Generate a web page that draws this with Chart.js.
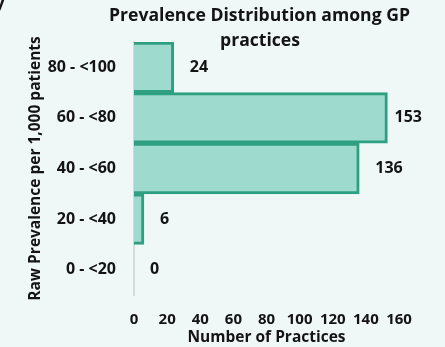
<!DOCTYPE html>
<html>
<head>
<meta charset="utf-8">
<script src="https://cdn.jsdelivr.net/npm/chart.js@4/dist/chart.umd.min.js"></script>
<style>
html,body{margin:0;padding:0;background:#eff8f6;}
#wrap{width:445px;height:347px;position:relative;}
</style>
</head>
<body>
<div id="wrap"><canvas id="c" width="445" height="347"></canvas></div>
<script>
const categories = ['80 - <100', '60 - <80', '40 - <60', '20 - <40', '0 - <20'];
const practices = [24, 153, 136, 6, 0];
const xTicks = [0, 20, 40, 60, 80, 100, 120, 140, 160];
const titleLines = ['Prevalence Distribution among GP', 'practices'];

const FONT = '"Open Sans"';
const TEXT = '#141414';

const bgPlugin = {
  id: 'bg',
  beforeDraw(chart) {
    const ctx = chart.ctx;
    ctx.save();
    ctx.fillStyle = '#eff8f6';
    ctx.fillRect(0, 0, chart.width, chart.height);
    ctx.restore();
  }
};

const textPlugin = {
  id: 'texts',
  afterDraw(chart) {
    const ctx = chart.ctx;
    ctx.save();
    ctx.fillStyle = TEXT;
    // title
    ctx.font = 'bold 17.6px ' + FONT;
    ctx.textAlign = 'center';
    ctx.textBaseline = 'alphabetic';
    ctx.fillText(titleLines[0], 259.5, 20.7);
    ctx.fillText(titleLines[1], 260, 45.5);
    // cut-off fragment at top-left
    ctx.textAlign = 'left';
    ctx.fillText('y', -5, 8);
    // data labels
    ctx.font = 'bold 16px ' + FONT;
    ctx.textBaseline = 'middle';
    const meta = chart.getDatasetMeta(0);
    const maxRight = chart.width - 23;
    meta.data.forEach((el, i) => {
      const txt = String(practices[i]);
      const w = ctx.measureText(txt).width;
      let x = el.x + 16;
      if (x + w > maxRight) x = maxRight - w;
      ctx.fillText(txt, x, el.y);
    });
    ctx.restore();
  }
};

new Chart(document.getElementById('c'), {
  type: 'bar',
  data: {
    labels: categories,
    datasets: [{
      data: practices,
      backgroundColor: '#9fdace',
      borderColor: '#2f9f82',
      borderWidth: 3,
      barPercentage: 1,
      categoryPercentage: 1
    }]
  },
  options: {
    indexAxis: 'y',
    responsive: false,
    animation: false,
    layout: { padding: { top: 42, right: 46, bottom: 0, left: 0 } },
    plugins: {
      legend: { display: false },
      title: { display: false },
      tooltip: { enabled: false }
    },
    scales: {
      x: {
        min: 0, max: 160,
        afterBuildTicks(scale) { scale.ticks = xTicks.map(v => ({ value: v })); },
        afterFit(scale) { scale.height = 52; },
        grid: { display: false, drawTicks: false },
        border: { display: false },
        ticks: { color: TEXT, font: { family: FONT, size: 15, weight: 'bold' }, padding: 16, maxRotation: 0, autoSkip: false },
        title: { display: true, text: 'Number of Practices', color: TEXT, font: { family: FONT, size: 15.5, weight: 'bold' }, padding: { top: 0, bottom: 0 } }
      },
      y: {
        afterFit(scale) { scale.width = 134; },
        grid: { display: false, drawTicks: false },
        border: { display: true, color: '#d6d9d9', width: 2 },
        ticks: { color: TEXT, font: { family: FONT, size: 16, weight: 'bold' }, padding: 18 },
        title: { display: true, text: 'Raw Prevalence per 1,000 patients', color: TEXT, font: { family: FONT, size: 15.5, weight: 'bold' }, padding: { top: 26, bottom: 0 } }
      }
    }
  },
  plugins: [bgPlugin, textPlugin]
});
</script>
</body>
</html>
